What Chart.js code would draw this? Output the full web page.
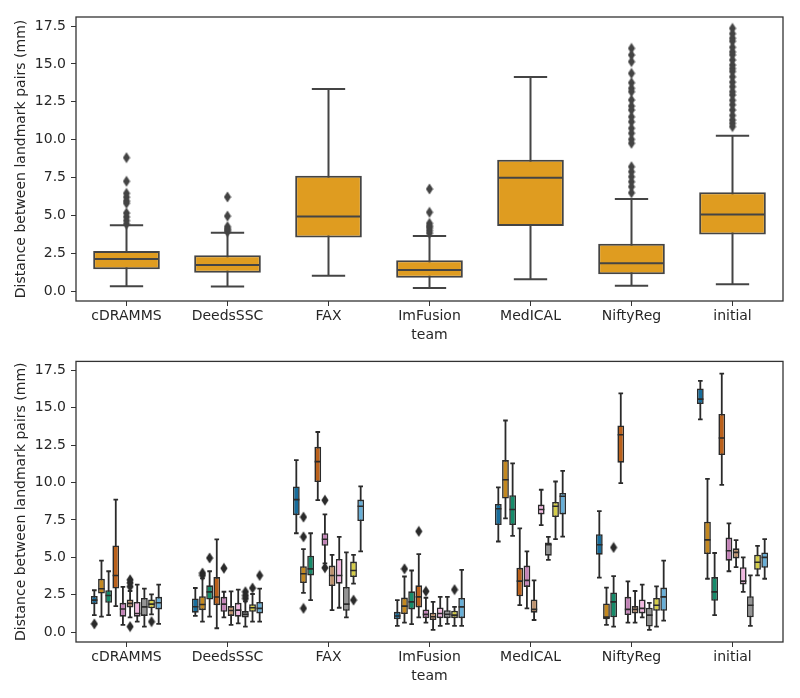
<!DOCTYPE html>
<html>
<head>
<meta charset="utf-8">
<script src="https://cdn.jsdelivr.net/npm/chart.js@4.4.1/dist/chart.umd.min.js"></script>
<style>
  body { margin: 0; background: #fff; }
  canvas { position: absolute; left: 0; }
</style>
</head>
<body>
<canvas id="allChart" width="800" height="348" style="top:0"></canvas>
<canvas id="caseChart" width="800" height="341" style="top:348px"></canvas>
<script>
const teams = ['cDRAMMS', 'DeedsSSC', 'FAX', 'ImFusion', 'MedICAL', 'NiftyReg', 'initial'];

// upper panel: all landmark pairs pooled per team
const allLo  = [0.31, 0.29, 1.01, 0.20, 0.77, 0.35, 0.44];
const allQ1  = [1.43, 1.21, 3.54, 0.88, 4.29, 1.10, 3.74];
const allMed = [2.11, 1.72, 4.93, 1.39, 7.48, 1.83, 5.06];
const allQ3  = [2.64, 2.36, 7.62, 2.03, 8.67, 3.12, 6.52];
const allHi  = [4.34, 3.85, 13.34, 3.63, 14.13, 6.08, 10.26];
const allFliers = [
  [8.81, 7.25, 6.45, 6.2, 5.95, 5.8, 5.15, 4.9, 4.65, 4.42],
  [6.21, 4.95, 4.25, 4.12, 4.02, 3.92],
  [],
  [6.74, 5.2, 4.47, 4.3, 4.18, 4.0, 3.82],
  [],
  [16.03, 15.59, 15.15, 14.38, 13.76, 13.39, 13.17, 12.62, 12.22, 11.96, 11.51, 11.18, 10.75, 10.42, 10.02, 9.76,
   8.21, 7.88, 7.55, 7.22, 6.89, 6.49],
  [17.35, 17.0, 16.7, 16.5, 16.1, 15.8, 15.6, 15.26, 14.93, 14.7, 14.5, 14.15, 13.8, 13.5, 13.17, 12.95,
   12.6, 12.3, 11.96, 11.6, 11.3, 11.08, 10.86]
];

// lower panel: one box per case (rows) and team (columns)
const caseLo = [
  [1.14, 1.08, 6.61, 0.42, 6.06, 3.64, 14.22],
  [1.03, 0.70, 2.62, 0.64, 7.60, 0.48, 3.57],
  [1.14, 1.03, 2.14, 0.53, 6.43, 0.37, 1.14],
  [1.74, 0.26, 8.82, 0.99, 1.80, 9.96, 9.85],
  [0.48, 0.99, 4.60, 0.64, 1.59, 0.64, 4.07],
  [0.99, 0.48, 1.47, 0.15, 0.81, 0.64, 4.34],
  [0.70, 0.59, 1.63, 0.42, 7.16, 0.99, 2.69],
  [0.37, 0.37, 0.99, 0.55, 4.83, 0.15, 0.42],
  [1.19, 0.70, 3.24, 0.42, 6.22, 0.37, 3.79],
  [0.55, 0.70, 5.40, 0.42, 6.39, 0.77, 3.57]
];
const caseQ1 = [
  [1.87, 1.30, 7.82, 0.86, 7.16, 5.18, 15.25],
  [2.58, 1.47, 3.28, 1.21, 8.93, 0.86, 5.22],
  [1.96, 2.18, 3.79, 1.52, 7.16, 0.99, 2.09],
  [2.91, 1.80, 10.03, 1.65, 2.40, 11.33, 11.84],
  [1.03, 1.36, 5.77, 0.93, 3.02, 1.14, 4.78],
  [1.65, 1.08, 3.08, 0.81, 1.30, 1.25, 4.93],
  [1.03, 1.03, 3.24, 0.93, 7.87, 1.25, 3.19],
  [1.08, 0.97, 1.43, 0.93, 5.11, 0.37, 0.99],
  [1.59, 1.36, 3.68, 0.93, 7.69, 1.43, 4.17],
  [1.52, 1.25, 7.43, 0.93, 7.87, 1.43, 4.30]
];
const caseMed = [
  [2.14, 1.70, 8.86, 1.08, 8.25, 5.84, 15.58],
  [2.90, 1.85, 3.90, 1.74, 10.19, 1.00, 6.17],
  [2.45, 2.69, 4.23, 2.02, 8.20, 2.02, 2.69],
  [3.79, 2.35, 11.40, 2.36, 3.41, 13.20, 12.98],
  [1.55, 1.87, 6.21, 1.19, 3.46, 1.52, 5.44],
  [1.92, 1.45, 3.79, 1.03, 1.52, 1.52, 5.33],
  [1.25, 1.47, 3.79, 1.25, 8.20, 1.59, 3.41],
  [1.69, 1.19, 1.87, 1.20, 5.84, 1.14, 1.80],
  [1.87, 1.63, 4.12, 1.14, 8.42, 1.80, 4.67],
  [1.96, 1.59, 8.42, 1.69, 9.08, 2.36, 5.00]
];
const caseQ3 = [
  [2.42, 2.25, 9.74, 1.36, 8.57, 6.55, 16.29],
  [3.57, 2.40, 4.41, 2.31, 11.50, 1.92, 7.38],
  [2.80, 3.13, 5.11, 2.73, 9.15, 2.65, 3.68],
  [5.80, 3.68, 12.39, 3.13, 4.30, 13.82, 14.59],
  [1.96, 2.36, 6.61, 1.52, 4.45, 2.36, 6.32],
  [2.18, 1.74, 4.45, 1.30, 2.18, 1.74, 5.60],
  [2.02, 1.96, 4.89, 1.65, 8.53, 2.18, 4.34],
  [2.29, 1.41, 3.02, 1.47, 5.99, 1.63, 2.40],
  [2.18, 1.87, 4.72, 1.43, 8.70, 2.29, 5.18],
  [2.36, 2.02, 8.86, 2.29, 9.30, 2.98, 5.33]
];
const caseHi = [
  [2.80, 2.95, 11.50, 2.14, 9.68, 8.09, 16.80],
  [4.78, 3.60, 5.55, 3.72, 14.15, 2.98, 10.25],
  [4.07, 4.07, 6.61, 4.12, 11.28, 3.74, 5.29],
  [8.86, 6.20, 13.38, 5.22, 6.94, 15.96, 17.28],
  [3.02, 2.70, 7.87, 2.30, 5.40, 3.39, 7.27],
  [2.75, 2.73, 5.16, 2.02, 3.46, 2.75, 6.15],
  [3.17, 2.84, 6.37, 2.36, 9.52, 3.17, 5.00],
  [2.91, 2.05, 5.33, 2.36, 6.37, 1.96, 3.79],
  [2.53, 2.55, 5.16, 1.69, 10.07, 3.06, 5.77],
  [3.17, 2.91, 9.74, 4.16, 10.78, 4.78, 6.22]
];
// [team index, case index, value]
const caseFliers = [
  [0, 0, 0.55], [0, 5, 3.5], [0, 5, 3.3], [0, 5, 3.05], [0, 5, 0.37], [0, 8, 0.7],
  [1, 1, 3.95], [1, 1, 3.8], [1, 2, 4.96], [1, 4, 4.27], [1, 7, 2.7], [1, 7, 2.45], [1, 7, 2.25],
  [1, 8, 2.95], [1, 9, 3.79],
  [2, 1, 7.69], [2, 1, 6.37], [2, 1, 1.59], [2, 4, 8.82], [2, 4, 4.3], [2, 8, 2.14],
  [3, 1, 4.23], [3, 3, 6.74], [3, 4, 2.73], [3, 8, 2.84],
  [5, 2, 5.66]
];

const caseColors = ['#176D9C', '#C38820', '#168B6A', '#BB611B', '#C282B6',
                    '#BD926E', '#F1B8E0', '#949494', '#D5CD4A', '#68AFD7'];
const TOP_FILL = '#DF9C20';
const LINE_TOP = '#444444';
const LINE_BOT = '#2a2a2a';
const FONT = { family: 'DejaVu Sans', size: 14 };
const TXT = '#262626';
const GROUP = 0.708;

function thinDiamond(color) {
  const c = document.createElement('canvas');
  c.width = 8; c.height = 12;
  const g = c.getContext('2d');
  g.fillStyle = color;
  g.beginPath();
  g.moveTo(4, 0.5); g.lineTo(7.6, 6); g.lineTo(4, 11.5); g.lineTo(0.4, 6);
  g.closePath(); g.fill();
  return c;
}

const frame = {
  id: 'frame',
  afterDraw(chart) {
    const { ctx, chartArea: a } = chart;
    ctx.save();
    ctx.strokeStyle = '#333333';
    ctx.lineWidth = 1.3;
    ctx.strokeRect(a.left, a.top, a.right - a.left, a.bottom - a.top);
    ctx.restore();
  }
};

// a width in team units, turned into pixels by the x scale
const px = (chart, w) => chart.scales.x.getPixelForValue(w) - chart.scales.x.getPixelForValue(0);

function scales() {
  return {
    x: {
      type: 'linear', min: -0.5, max: 6.5, offset: false,
      afterBuildTicks: s => { s.ticks = teams.map((t, i) => ({ value: i })); },
      afterFit: s => { s.height = 47; },
      grid: { offset: false, drawOnChartArea: false, tickLength: 5, tickColor: '#333333' },
      border: { display: false },
      ticks: { font: FONT, color: TXT, padding: 2, maxRotation: 0, autoSkip: false,
               callback: v => teams[v] },
      title: { display: true, text: 'team', font: FONT, color: TXT, padding: { top: 2, bottom: 4 } }
    },
    y: {
      min: -0.66, max: 18.1,
      afterFit: s => { s.width = 76; },
      grid: { drawOnChartArea: false, tickLength: 5, tickColor: '#333333' },
      border: { display: false },
      ticks: { stepSize: 2.5, includeBounds: false, font: FONT, color: TXT, padding: 5,
               callback: v => v.toFixed(1) },
      title: { display: true, text: 'Distance between landmark pairs (mm)', font: FONT, color: TXT,
               padding: { top: 13, bottom: 0 } }
    }
  };
}

function options(padTop) {
  return {
    responsive: false,
    animation: false,
    events: [],
    layout: { autoPadding: false, padding: { left: 0, right: 17, top: padTop, bottom: 0 } },
    plugins: { legend: { display: false }, tooltip: { enabled: false } },
    scales: scales()
  };
}

// ---- upper chart
new Chart(document.getElementById('allChart'), {
  type: 'bar',
  data: {
    datasets: [
      {
        type: 'line', order: 3,
        data: teams.flatMap((t, i) => [{ x: i, y: allLo[i] }, { x: i, y: allHi[i] }, { x: i, y: null }]),
        borderColor: LINE_TOP, borderWidth: 2, pointRadius: 0, spanGaps: false
      },
      {
        type: 'bar', order: 2, grouped: false,
        data: teams.map((t, i) => ({ x: i, y: [allQ1[i], allQ3[i]] })),
        backgroundColor: TOP_FILL, borderColor: LINE_TOP, borderWidth: 2, borderSkipped: false,
        categoryPercentage: 1, barPercentage: 0.66
      },
      {
        type: 'scatter', order: 1,
        data: teams.flatMap((t, i) => [{ x: i, y: allLo[i] }, { x: i, y: allHi[i] }]),
        pointStyle: 'line', pointRadius: c => px(c.chart, 0.165),
        pointBorderColor: LINE_TOP, pointBorderWidth: 2
      },
      {
        type: 'scatter', order: 1,
        data: teams.map((t, i) => ({ x: i, y: allMed[i] })),
        pointStyle: 'line', pointRadius: c => px(c.chart, 0.32),
        pointBorderColor: LINE_TOP, pointBorderWidth: 2
      },
      {
        type: 'scatter', order: 1,
        data: allFliers.flatMap((vals, i) => vals.map(v => ({ x: i, y: v }))),
        pointStyle: thinDiamond(LINE_TOP), pointRadius: 4
      }
    ]
  },
  options: options(17),
  plugins: [frame]
});

// ---- lower chart, boxes dodged per case
const nCases = caseColors.length;
const caseX = (t, h) => t + (h - (nCases - 1) / 2) * GROUP / nCases;

const caseBars = caseColors.map((col, h) => ({
  type: 'bar', order: 2, grouped: false,
  data: teams.map((t, i) => ({ x: caseX(i, h), y: [caseQ1[h][i], caseQ3[h][i]] })),
  backgroundColor: col, borderColor: LINE_BOT, borderWidth: 1.6, borderSkipped: false,
  categoryPercentage: 1, barPercentage: 0.95
}));

const caseWhisk = [], caseCaps = [], caseMeds = [];
caseColors.forEach((col, h) => {
  teams.forEach((t, i) => {
    const x = caseX(i, h);
    caseWhisk.push({ x, y: caseLo[h][i] }, { x, y: caseHi[h][i] }, { x, y: null });
    caseCaps.push({ x, y: caseLo[h][i] }, { x, y: caseHi[h][i] });
    caseMeds.push({ x, y: caseMed[h][i] });
  });
});

new Chart(document.getElementById('caseChart'), {
  type: 'bar',
  data: {
    datasets: [
      {
        type: 'line', order: 3, data: caseWhisk,
        borderColor: LINE_BOT, borderWidth: 1.8, pointRadius: 0, spanGaps: false
      },
      ...caseBars,
      {
        type: 'scatter', order: 1, data: caseCaps,
        pointStyle: 'line', pointRadius: c => px(c.chart, 0.023),
        pointBorderColor: LINE_BOT, pointBorderWidth: 1.8
      },
      {
        type: 'scatter', order: 1, data: caseMeds,
        pointStyle: 'line', pointRadius: c => px(c.chart, 0.031),
        pointBorderColor: LINE_BOT, pointBorderWidth: 1.6
      },
      {
        type: 'scatter', order: 1,
        data: caseFliers.map(([t, h, v]) => ({ x: caseX(t, h), y: v })),
        pointStyle: thinDiamond(LINE_BOT), pointRadius: 4
      }
    ]
  },
  options: options(10),
  plugins: [frame]
});
</script>
</body>
</html>
